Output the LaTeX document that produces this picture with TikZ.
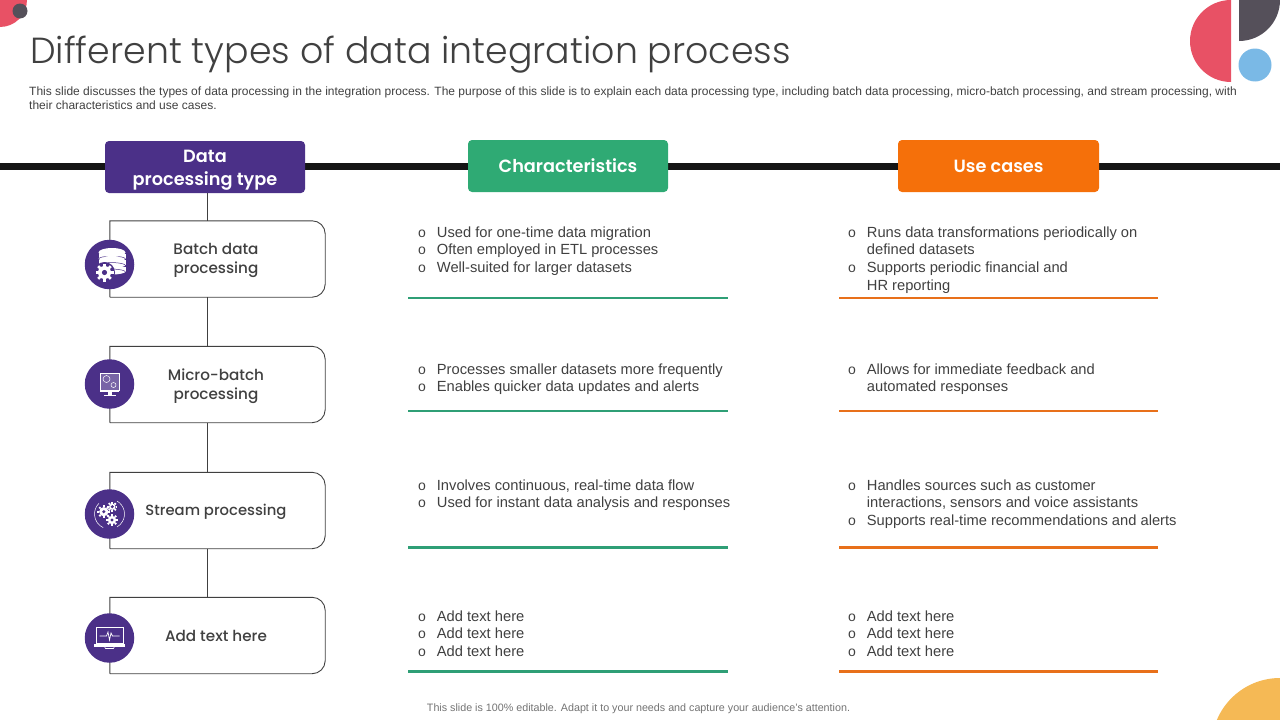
\documentclass[tikz,border=0pt]{standalone}
\usepackage{fontspec}
\setmainfont{Liberation Sans}
\newfontfamily\popm{Poppins Medium}
\newfontfamily\pops{Poppins SemiBold}
\newfontfamily\popl{Poppins Light}
\definecolor{purp}{HTML}{4B3088}
\definecolor{grn}{HTML}{2FAA74}
\definecolor{grl}{HTML}{2F9F76}
\definecolor{org}{HTML}{F5700A}
\definecolor{orl}{HTML}{E8701A}
\definecolor{txt}{HTML}{404040}
\definecolor{rul}{HTML}{151515}
\definecolor{redd}{HTML}{E85165}
\definecolor{dark}{HTML}{55505A}
\definecolor{blu}{HTML}{7AB9E6}
\definecolor{yel}{HTML}{F5B955}
\tikzset{
 x=1pt,y=-1pt,
 header/.style={rounded corners=4pt,text=white,inner sep=0pt,align=center,font=\pops\fontsize{17.7}{23}\selectfont},
 typebox/.style={minimum width=215pt,inner sep=0pt},
 boxline/.style={draw=txt,line width=0.9pt},
 typelabel/.style={text=txt,align=center,inner sep=0pt,font=\popm\fontsize{15.2}{19}\selectfont},
 iconc/.style={circle,fill=purp,minimum size=49.5pt,inner sep=0pt},
 body/.style={anchor=north west,align=left,inner sep=0pt,text=txt,font=\fontsize{14.7}{17.6}\selectfont},
 grule/.style={draw=grl,line width=2.2pt},
 orule/.style={draw=orl,line width=2.2pt},
}
\newcommand{\bl}{\makebox[18.7pt][l]{\fontsize{14}{14}\selectfont o}}
\newcommand{\hg}{\hspace*{18.7pt}}
\begin{document}
\begin{tikzpicture}
\useasboundingbox (0,0) rectangle (1280,720);
% decorations
\fill[redd] (0,0) -- (27,0) arc[start angle=0,end angle=90,radius=27] -- cycle;
\fill[dark] (20,11) circle[radius=7.5];
\fill[redd] (1231,0) arc[start angle=270,end angle=90,radius=41] -- cycle;
\fill[dark] (1239,0) -- (1280,0) arc[start angle=0,end angle=90,radius=41] -- cycle;
\fill[blu] (1255,65) circle[radius=16.5];
\begin{scope}
\clip (1200,660) rectangle (1280,720);
\fill[yel] (1280,746.5) circle[radius=68.5];
\end{scope}
% title
\node[anchor=base west,inner sep=0pt,text=txt] (title) at (30,63) {\popl\fontsize{36.3}{40}\selectfont Different types of data integration process};
\node[anchor=north west,inner sep=0pt,align=left,text=txt,font=\fontsize{12}{14}\selectfont] (desc) at (29,86.5) {This slide discusses the types of data processing in the integration process. The purpose of this slide is to explain each data processing type, including batch data processing, micro-batch processing, and stream processing, with\\their characteristics and use cases.};
% rule
\coordinate (rl) at (0,166);
\coordinate (rr) at (1280,166);
\draw[rul,line width=7pt] (rl) -- (rr);
% headers
\node[header,fill=purp,minimum width=200pt,minimum height=52pt] (h1) at (205,167) {\rule{0pt}{18pt}Data\\processing type};
\node[header,fill=grn,minimum width=200pt,minimum height=52pt] (h2) at (568,166) {Characteristics};
\node[header,fill=org,minimum width=201pt,minimum height=52pt] (h3) at (998.5,166) {Use cases};
% type boxes
\node[typebox,minimum height=76pt] (b1) at (217.5,259) {};
\node[typebox,minimum height=76pt] (b2) at (217.5,384.5) {};
\node[typebox,minimum height=76pt] (b3) at (217.5,510.5) {};
\node[typebox,minimum height=76pt] (b4) at (217.5,635.5) {};
\draw[boxline] (h1.south -| 207,0) -- (b1.north -| 207,0);
\draw[boxline] (b1.south -| 207,0) -- (b2.north -| 207,0);
\draw[boxline] (b2.south -| 207,0) -- (b3.north -| 207,0);
\draw[boxline] (b3.south -| 207,0) -- (b4.north -| 207,0);
\foreach \b in {b1,b2,b3,b4}{
 \draw[boxline] (\b.south west) -- (\b.north west) [rounded corners=13pt] -- (\b.north east) -- (\b.south east) [sharp corners] -- (\b.south west);
}
\node[typelabel] (t1) at (216,260) {Batch data\\processing};
\node[typelabel] (t2) at (216,386) {Micro-batch\\processing};
\node[typelabel,font=\popm\fontsize{14.8}{19}\selectfont] (t3) at (216,511.5) {Stream processing};
\node[typelabel] (t4) at (216,636) {Add text here};
% icons
\node[iconc] (c1) at (109.5,264.5) {};
\node[iconc] (c2) at (109.5,384) {};
\node[iconc] (c3) at (109.5,514) {};
\node[iconc] (c4) at (109.5,638) {};
% icon 1 database + gear
\begin{scope}[shift={(c1.center)}]
 \foreach \y in {-11,-4.5,2}{
  \fill[white] (-11,\y) rectangle (16,\y+5);
  \fill[white] (2.5,\y+5) ellipse[x radius=13.5,y radius=3];
  \draw[purp,line width=0.5pt] (-11,\y+5.6) arc[start angle=180,end angle=360,x radius=13.5,y radius=3];
 }
 \fill[white] (2.5,-12) ellipse[x radius=13.5,y radius=4.5];
 \fill[purp] (-5,8) circle[radius=10.5];
 \foreach \a in {0,45,...,315}{\draw[white,line width=2.6pt] (-5,8)++(\a:5) -- ++(\a:4);}
 \fill[white] (-5,8) circle[radius=6.5];
 \fill[purp] (-5,8) circle[radius=2.6];
\end{scope}
% icon 2 monitor
\begin{scope}[shift={(c2.center)}]
 \draw[white,line width=0.8pt,fill=purp!75!white] (-9.5,-11) rectangle (9.5,6);
 \fill[white] (-9.5,6) rectangle (9.5,8);
 \fill[white] (-2,8) rectangle (2,10.5);
 \fill[white] (-6,10.5) rectangle (6,12);
 \draw[white,line width=0.5pt] (-3,-5) circle[radius=3.5];
 \draw[white,line width=0.5pt] (4,1) circle[radius=2.5];
\end{scope}
% icon 3 gears
\begin{scope}[shift={(c3.center)}]
 \foreach \x/\y/\r in {-5.7/-2.3/4.6,2.8/-7.3/3.2,2.5/6/4.2}{
  \foreach \a in {0,45,...,315}{\draw[white,line width=1.8pt] (\x,\y)++(\a:\r) -- ++(\a:1.8);}
  \fill[white] (\x,\y) circle[radius=\r];
  \fill[purp] (\x,\y) circle[radius=1.7];
 }
 \draw[white,line width=0.5pt] (0,0) ++(115:15) arc[start angle=115,end angle=225,radius=15];
 \draw[white,line width=0.5pt] (0,0) ++(-60:15) arc[start angle=-60,end angle=60,radius=15];
\end{scope}
% icon 4 laptop
\begin{scope}[shift={(c4.center)}]
 \draw[white,line width=0.9pt] (-13.5,-11) rectangle (13.5,5);
 \draw[white,line width=0.7pt] (-10,-2) -- (-3,-2) -- (-1.5,-6) -- (0,2) -- (1.5,-5) -- (3,-2) -- (10,-2);
 \fill[white] (-15.5,6) rectangle (15.5,8.5);
 \draw[white,line width=0.6pt] (-5,8.5) -- (-4,10.5) -- (4,10.5) -- (5,8.5);
\end{scope}
% body text
\node[body] (a1) at (418,226.5) {\bl Used for one-time data migration\\\bl Often employed in ETL processes\\\bl Well-suited for larger datasets};
\node[body] (a2) at (418,363.5) {\bl Processes smaller datasets more frequently\\\bl Enables quicker data updates and alerts};
\node[body] (a3) at (418,479.5) {\bl Involves continuous, real-time data flow\\\bl Used for instant data analysis and responses};
\node[body] (a4) at (418,610.5) {\bl Add text here\\\bl Add text here\\\bl Add text here};
\node[body] (u1) at (848,226.5) {\bl Runs data transformations periodically on\\\hg defined datasets\\\bl Supports periodic financial and\\\hg HR reporting};
\node[body] (u2) at (848,363.5) {\bl Allows for immediate feedback and\\\hg automated responses};
\node[body] (u3) at (848,479.5) {\bl Handles sources such as customer\\\hg interactions, sensors and voice assistants\\\bl Supports real-time recommendations and alerts};
\node[body] (u4) at (848,610.5) {\bl Add text here\\\bl Add text here\\\bl Add text here};
% rules
\foreach \y in {298,411,547.5,671.5}{
 \draw[grule] (408,\y) -- (728,\y);
 \draw[orule] (839,\y) -- (1158,\y);
}
\node[anchor=base,inner sep=0pt,text=black!55] (foot) at (638.5,711) {\fontsize{10.73}{12}\selectfont This slide is 100\% editable. Adapt it to your needs and capture your audience's attention.};
\end{tikzpicture}
\end{document}
